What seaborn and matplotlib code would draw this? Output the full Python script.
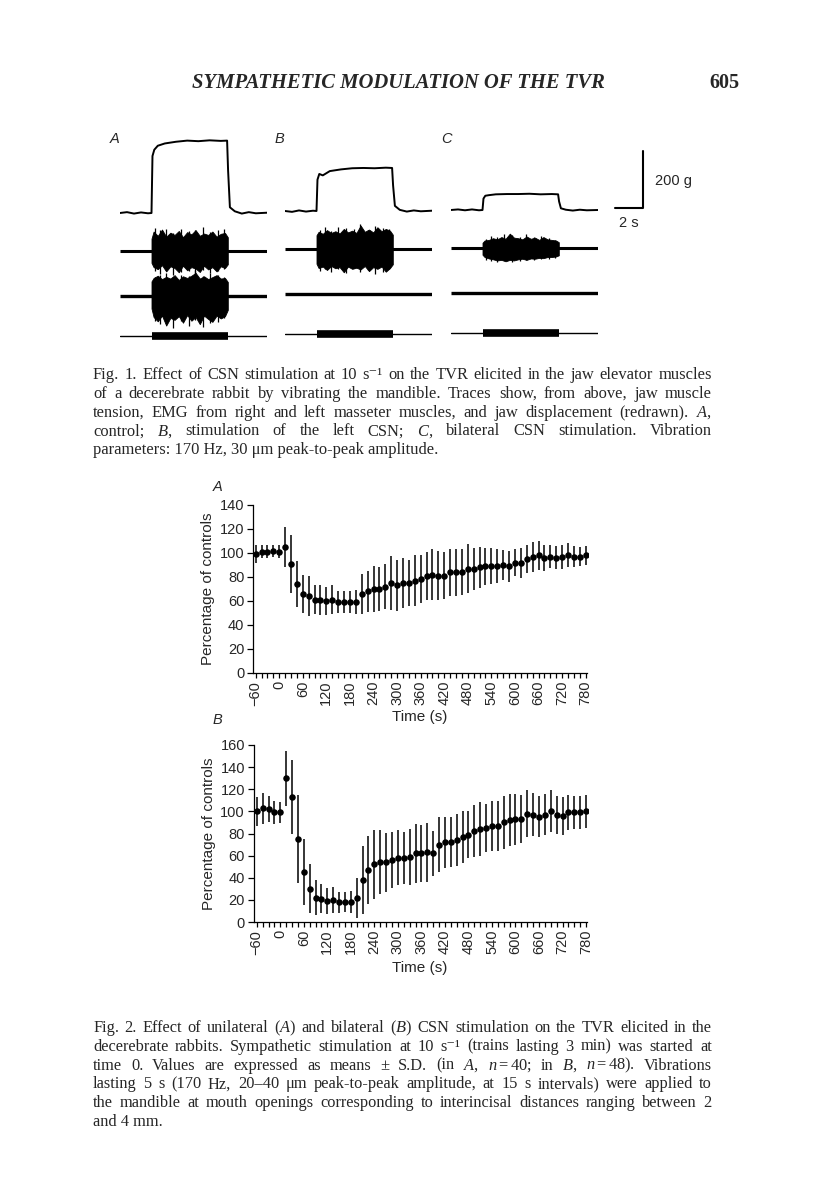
import matplotlib
matplotlib.use("Agg")
import matplotlib.pyplot as plt
import seaborn as sns
import pandas as pd

# ---- Fig. 1 traces (time in s, tension in g; EMG envelopes on the same scale) ----
tens_t = [0, 0.5, 1.0, 1.5, 2.0, 2.25, 2.32, 2.45, 2.7, 3.2, 4.0, 4.8, 5.6, 6.4, 7.2, 7.65, 7.72, 7.85, 8.2, 8.7, 9.2, 9.7, 10.5]
tens_A = [0, 3, -2, 2, -1, 0, 200, 222, 236, 244, 250, 254, 252, 255, 253, 254, 150, 20, 6, -2, 3, -1, 1]
tens_B = [0, -3, 2, -2, 1, 0, 110, 130, 125, 140, 146, 150, 151, 150, 152, 151, 90, 18, 4, -2, 2, -1, 1]
tens_C = [0, 2, -1, 2, -1, 0, 40, 50, 52, 55, 56, 56, 57, 55, 56, 55, 30, 6, 1, -2, 1, -1, 0]

burst_t = [2.25, 2.4, 2.7, 3.0, 3.3, 3.6, 3.9, 4.2, 4.5, 4.8, 5.1, 5.4, 5.7, 6.0, 6.3, 6.6, 6.9, 7.2, 7.5, 7.7]
emg1_top = {
    "A": [45, 70, 55, 77, 52, 66, 58, 72, 50, 68, 60, 75, 55, 63, 58, 70, 52, 62, 65, 50],
    "B": [50, 62, 55, 68, 58, 64, 56, 72, 60, 66, 58, 84, 62, 70, 60, 78, 64, 72, 66, 52],
    "C": [20, 28, 30, 36, 32, 40, 34, 52, 38, 36, 32, 42, 34, 38, 30, 40, 32, 30, 28, 22],
}
emg1_bot = {
    "A": [40, 55, 62, 48, 70, 52, 58, 73, 50, 66, 55, 60, 72, 50, 63, 55, 70, 52, 58, 45],
    "B": [50, 65, 60, 72, 58, 66, 62, 80, 60, 68, 64, 70, 58, 76, 62, 68, 60, 78, 65, 52],
    "C": [22, 30, 35, 38, 42, 40, 45, 40, 42, 38, 36, 40, 35, 36, 33, 34, 30, 30, 28, 24],
}
emg2_top_A = [50, 62, 70, 58, 66, 60, 72, 55, 68, 62, 70, 80, 60, 68, 58, 65, 72, 60, 62, 48]
emg2_bot_A = [45, 75, 90, 70, 105, 78, 85, 72, 95, 68, 88, 75, 100, 70, 82, 92, 70, 80, 72, 50]
# single tall EMG spikes (time, up, down)
spike_t = [2.5, 2.85, 3.25, 3.75, 4.35, 4.9, 5.35, 5.95, 6.45, 7.0, 7.45]
spike_up = {
    "A": [82, 74, 80, 66, 78, 72, 76, 85, 68, 74, 80],
    "B": [70, 78, 66, 80, 74, 72, 88, 70, 84, 76, 72],
    "C": [34, 44, 40, 50, 46, 42, 52, 40, 44, 36, 30],
}
spike_dn = {
    "A": [70, 78, 64, 82, 72, 68, 80, 66, 76, 70, 62],
    "B": [74, 68, 80, 70, 84, 66, 78, 72, 86, 80, 70],
    "C": [40, 44, 48, 42, 46, 44, 42, 40, 38, 36, 32],
}
spike2_up_A = [66, 72, 80, 64, 74, 70, 90, 68, 78, 72, 66]
spike2_dn_A = [88, 100, 96, 112, 90, 106, 84, 110, 96, 92, 80]
stim_on, stim_off = 2.25, 7.7

# ---- Fig. 2 data ----
time_s = [-60, -45, -30, -15, 0, 15, 30, 45, 60, 75, 90, 105, 120, 135, 150, 165, 180, 195,
          210, 225, 240, 255, 270, 285, 300, 315, 330, 345, 360, 375, 390, 405, 420, 435,
          450, 465, 480, 495, 510, 525, 540, 555, 570, 585, 600, 615, 630, 645, 660, 675,
          690, 705, 720, 735, 750, 765, 780]
mean_A = [99, 101, 101, 102, 101, 105, 91, 74, 66, 64, 61, 61, 60, 61, 59, 59, 59, 59,
          66, 68, 70, 70, 72, 75, 73, 75, 75, 77, 78, 81, 82, 81, 81, 84,
          84, 84, 87, 87, 88, 89, 89, 89, 90, 89, 92, 92, 95, 97, 98, 96,
          97, 96, 97, 98, 97, 97, 98]
sd_A = [7.5, 5.5, 5.5, 5, 5.5, 16.5, 24, 19, 16, 16.5, 12, 12.5, 11.5, 12, 9, 9, 9, 10,
        16.5, 17, 19, 18.5, 19, 22.5, 21, 20.5, 19, 21, 20, 20, 21, 20.5, 19.5, 19.5,
        19.5, 19, 20.5, 17.5, 17, 15.5, 15, 14, 12.5, 13, 11.5, 12.5, 12, 12.5, 12, 11,
        9.5, 9.5, 10, 10, 8.5, 8, 8]
mean_B = [100, 103, 102, 99, 99, 130, 113, 75, 45, 30, 22, 21, 19, 20, 18, 18, 18, 22,
          38, 47, 52, 54, 54, 56, 58, 58, 59, 62, 62, 63, 62, 70, 72, 72,
          74, 77, 79, 82, 84, 85, 87, 87, 90, 92, 93, 93, 98, 97, 95, 97,
          100, 97, 96, 99, 99, 99, 100]
sd_B = [13, 14, 12, 10, 9.5, 25, 33, 39.5, 30, 22, 16, 13, 11.5, 11.5, 9.5, 9, 10, 18,
        31, 30.5, 31.5, 29, 26.5, 25.5, 25, 23.5, 25.5, 26.5, 25.5, 26.5, 20.5, 25, 23, 22.5,
        23.5, 23.5, 21.5, 23.5, 24.5, 21.5, 22.5, 22.5, 24, 23.5, 23, 21.5, 21, 19.5, 18.5, 18.5,
        19, 17, 17, 15.5, 15, 15, 15]

W, H = 816, 1200
sns.set_theme(style="ticks")
plt.rcParams["font.family"] = ["Liberation Sans", "DejaVu Sans"]
plt.rcParams["mathtext.fontset"] = "custom"
plt.rcParams["mathtext.rm"] = "Liberation Serif"
plt.rcParams["mathtext.it"] = "Liberation Serif:italic"
plt.rcParams["mathtext.bf"] = "Liberation Serif:bold"
SERIF = ["Liberation Serif", "DejaVu Serif"]

fig = plt.figure(figsize=(W / 100, H / 100), dpi=100, facecolor="white")
renderer = fig.canvas.get_renderer()


def fx(x):
    return x / W


def fy(y):
    return 1 - y / H


def px_axes(left, top, right, bottom):
    return fig.add_axes([fx(left), fy(bottom), (right - left) / W, (bottom - top) / H])


def justify(lines, x0, x1, y0, dy, fill=0.965):
    # pick one font size so that the widest line fills most of the measure
    probe = [fig.text(0, 0, l, fontsize=10, family=SERIF) for l in lines[:-1]]
    widest = max(t.get_window_extent(renderer).width for t in probe)
    for t in probe:
        t.remove()
    size = 10 * fill * (x1 - x0) / widest
    for i, line in enumerate(lines):
        y = y0 + i * dy
        if i == len(lines) - 1:
            fig.text(fx(x0), fy(y), line, fontsize=size, family=SERIF, va="baseline")
            continue
        words = line.split(" ")
        texts = [fig.text(0, fy(y), w, fontsize=size, family=SERIF, va="baseline") for w in words]
        widths = [t.get_window_extent(renderer).width for t in texts]
        gap = (x1 - x0 - sum(widths)) / (len(words) - 1)
        x = x0
        for t, w in zip(texts, widths):
            t.set_x(fx(x))
            x += w + gap


# ---- running head ----
head = fig.text(fx(192), fy(88), "SYMPATHETIC MODULATION OF THE TVR", family=SERIF,
                style="italic", weight="bold", fontsize=14, va="baseline")
hw = head.get_window_extent(renderer).width
head.set_fontsize(14 * (607 - 192) / hw)
fig.text(fx(739), fy(88), "605", family=SERIF, weight="bold", fontsize=14.5,
         va="baseline", ha="right")

# ---- Fig. 1 ----
rows = {"emg1": -135, "emg2": -290, "disp": -432}
g_per_px = 200 / 57
panels = [("A", 120, 213, tens_A), ("B", 285, 211, tens_B), ("C", 451, 210, tens_C)]
for name, left, base, tens in panels:
    ax = px_axes(left, base - 300 / g_per_px, left + 147, base + 470 / g_per_px)
    ax.set_xlim(0, 10.5)
    ax.set_ylim(-470, 300)
    ax.axis("off")
    ax.plot(tens_t, tens, color="black", lw=1.4)
    # EMG channel 1
    r1 = rows["emg1"]
    ax.plot([0, 10.5], [r1, r1], color="black", lw=2.2, solid_capstyle="butt")
    ax.fill_between(burst_t, [r1 - v for v in emg1_bot[name]], [r1 + v for v in emg1_top[name]],
                    color="black", lw=0.6)
    ax.vlines(spike_t, [r1 - v for v in spike_dn[name]], [r1 + v for v in spike_up[name]],
              color="black", lw=0.9)
    # EMG channel 2
    r2 = rows["emg2"]
    ax.plot([0, 10.5], [r2, r2], color="black", lw=2.4, solid_capstyle="butt")
    if name == "A":
        ax.fill_between(burst_t, [r2 - v for v in emg2_bot_A], [r2 + v for v in emg2_top_A],
                        color="black", lw=0.6)
        ax.vlines(spike_t, [r2 - v for v in spike2_dn_A], [r2 + v for v in spike2_up_A],
                  color="black", lw=0.9)
    # jaw displacement
    ax.plot([0, 10.5], [rows["disp"]] * 2, color="black", lw=1.0)
    ax.plot([stim_on, stim_off], [rows["disp"]] * 2, color="black", lw=5.5, solid_capstyle="butt")
    fig.text(fx(left - 10), fy(139), name, style="italic", fontsize=10.5, va="center")
    if name == "C":
        # calibration bars: 200 g, 2 s
        ax.plot([11.7, 13.7, 13.7], [7, 7, 207], color="black", lw=1.5, clip_on=False)

fig.text(fx(655), fy(181), "200 g", fontsize=10.5, va="center")
fig.text(fx(629), fy(223), "2 s", fontsize=10.5, va="center", ha="center")

cap1 = [
    "Fig. 1. Effect of CSN stimulation at 10 s\u207b\u00b9 on the TVR elicited in the jaw elevator muscles",
    "of a decerebrate rabbit by vibrating the mandible. Traces show, from above, jaw muscle",
    "tension, EMG from right and left masseter muscles, and jaw displacement (redrawn). $A$,",
    "control; $B$, stimulation of the left CSN; $C$, bilateral CSN stimulation. Vibration",
    "parameters: 170 Hz, 30 μm peak-to-peak amplitude.",
]
justify(cap1, 93, 712, 379, 18.8)

# ---- Fig. 2 ----
df = pd.DataFrame({"time": time_s, "A": mean_A, "sdA": sd_A, "B": mean_B, "sdB": sd_B})
specs = [("A", "sdA", (253.3, 505, 588, 673), (-66, 786), 140, 487, 717),
         ("B", "sdB", (254, 745, 588, 922), (-67, 785), 160, 720, 968)]
for name, sdcol, box, xl, ymax, lab_y, xlab_y in specs:
    ax = px_axes(*box)
    ax.errorbar(df["time"], df[name], yerr=df[sdcol], fmt="none", ecolor="black",
                elinewidth=1.1, capsize=0)
    sns.scatterplot(data=df, x="time", y=name, ax=ax, color="black", s=22,
                    edgecolor="black", linewidth=0, zorder=3)
    ax.set_xlim(*xl)
    ax.set_ylim(0, ymax)
    ax.set_yticks(range(0, ymax + 1, 20))
    ax.set_xticks(range(-60, 781, 60))
    ax.set_xticks(time_s, minor=True)
    ax.set_xticklabels([str(v).replace("-", "\u2212") for v in range(-60, 781, 60)],
                       rotation=90)
    ax.tick_params(axis="y", length=4.5, width=0.9, labelsize=10.5, pad=2, color="black")
    ax.tick_params(axis="x", which="both", length=3.5, width=0.9, labelsize=10.5, pad=2,
                   color="black")
    for s in ["left", "bottom"]:
        ax.spines[s].set_linewidth(0.9)
        ax.spines[s].set_color("black")
    sns.despine(ax=ax)
    ax.spines["bottom"].set_bounds(xl[0], xl[1] - 2)
    ax.set_xlabel("")
    ax.set_ylabel("Percentage of controls", fontsize=11, labelpad=3)
    fig.text(fx(420), fy(xlab_y), "Time (s)", fontsize=11, ha="center", va="center")
    fig.text(fx(213), fy(lab_y), name, style="italic", fontsize=10.5, va="center")

cap2 = [
    "Fig. 2. Effect of unilateral ($A$) and bilateral ($B$) CSN stimulation on the TVR elicited in the",
    "decerebrate rabbits. Sympathetic stimulation at 10 s\u207b\u00b9 (trains lasting 3 min) was started at",
    "time 0. Values are expressed as means \u00b1 S.D. (in $A$, $n=40$; in $B$, $n=48$). Vibrations",
    "lasting 5 s (170 Hz, 20\u201340 μm peak-to-peak amplitude, at 15 s intervals) were applied to",
    "the mandible at mouth openings corresponding to interincisal distances ranging between 2",
    "and 4 mm.",
]
justify(cap2, 93, 712, 1032, 18.8)

fig.savefig("out.png", dpi=100, facecolor="white")
